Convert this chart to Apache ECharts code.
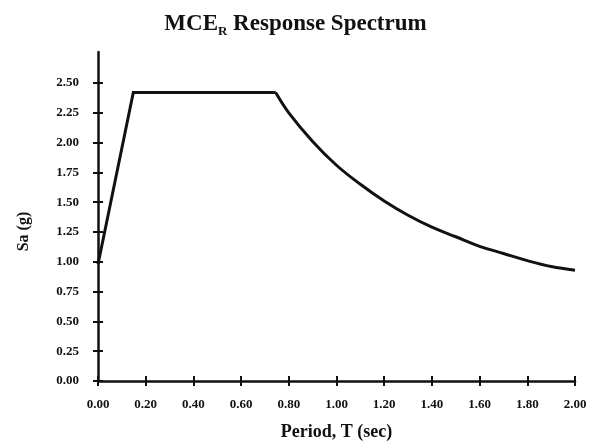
<!DOCTYPE html>
<html>
<head>
<meta charset="utf-8">
<script src="https://cdn.jsdelivr.net/npm/echarts@6/dist/echarts.min.js"></script>
<style>
html,body{margin:0;padding:0;background:#fff;}
#chart{width:591px;height:446px;}
</style>
</head>
<body>
<div id="chart"></div>
<script>
// Period T (sec) and spectral acceleration Sa (g)
// rising branch and plateau
var rampT  = [0.00, 0.148, 0.745];
var rampSa = [0.98, 2.42, 2.42];
// descending branch
var decayT  = [0.745, 0.80, 0.90, 1.00, 1.10, 1.20, 1.30, 1.40, 1.50, 1.60, 1.70, 1.80, 1.90, 2.00];
var decaySa = [2.42, 2.25, 2.01, 1.81, 1.65, 1.51, 1.39, 1.29, 1.21, 1.13, 1.07, 1.01, 0.96, 0.93];

var xTicks = [0.00, 0.20, 0.40, 0.60, 0.80, 1.00, 1.20, 1.40, 1.60, 1.80, 2.00];
var yTicks = [0.00, 0.25, 0.50, 0.75, 1.00, 1.25, 1.50, 1.75, 2.00, 2.25, 2.50];

var titleMain = 'MCE';
var titleSub = 'R';
var titleRest = ' Response Spectrum';
var xName = 'Period, T (sec)';
var yName = 'Sa (g)';

var serif = '"Liberation Serif", "DejaVu Serif", serif';
var ink = '#111';

function pairs(xs, ys) { return xs.map(function (t, i) { return [t, ys[i]]; }); }
function fmt(v) { return Number(v).toFixed(2); }

var chart = echarts.init(document.getElementById('chart'), null, {renderer: 'canvas'});

var xCommon = {
  type: 'value', min: 0, max: 2.0, interval: 0.2, position: 'bottom',
  splitLine: {show: false}
};
var yCommon = {
  type: 'value', min: 0, max: 2.76, position: 'left',
  splitLine: {show: false}
};
var lineStyle = {color: ink, width: 3, join: 'miter'};

chart.setOption({
  animation: false,
  backgroundColor: '#ffffff',
  title: {
    text: '{a|' + titleMain + '}{r|' + titleSub + '}{a|' + titleRest + '}',
    left: 'center',
    top: 5,
    textStyle: {
      rich: {
        a: {fontFamily: serif, fontSize: 23, fontWeight: 'bold', color: ink, lineHeight: 28},
        r: {fontFamily: serif, fontSize: 13, fontWeight: 'bold', color: ink, lineHeight: 10, verticalAlign: 'bottom'}
      }
    }
  },
  grid: {left: 98, right: 16, top: 52, bottom: 63, containLabel: false},
  xAxis: [
    Object.assign({}, xCommon, {
      name: xName,
      nameLocation: 'middle',
      nameGap: 42,
      nameTextStyle: {fontFamily: serif, fontSize: 18, fontWeight: 'bold', color: ink},
      axisLine: {show: true, lineStyle: {color: ink, width: 2.5}},
      axisTick: {show: true, inside: false, length: 5, lineStyle: {color: ink, width: 2}, customValues: xTicks},
      axisLabel: {show: true, margin: 17, fontFamily: serif, fontSize: 13, fontWeight: 'bold', color: ink,
                  formatter: fmt, customValues: xTicks}
    }),
    Object.assign({}, xCommon, {
      axisLine: {show: false},
      axisTick: {show: true, inside: true, length: 5, lineStyle: {color: ink, width: 2}, customValues: xTicks},
      axisLabel: {show: false}
    })
  ],
  yAxis: [
    Object.assign({}, yCommon, {
      name: yName,
      nameLocation: 'middle',
      nameGap: 66,
      nameRotate: 90,
      nameTextStyle: {fontFamily: serif, fontSize: 16, fontWeight: 'bold', color: ink, padding: [0, 0, 0, -30]},
      axisLine: {show: true, lineStyle: {color: ink, width: 2.5}},
      axisTick: {show: true, inside: false, length: 5, lineStyle: {color: ink, width: 2}, customValues: yTicks},
      axisLabel: {show: true, margin: 19, fontFamily: serif, fontSize: 13, fontWeight: 'bold', color: ink,
                  formatter: fmt, customValues: yTicks}
    }),
    Object.assign({}, yCommon, {
      axisLine: {show: false},
      axisTick: {show: true, inside: true, length: 5, lineStyle: {color: ink, width: 2}, customValues: yTicks},
      axisLabel: {show: false}
    })
  ],
  series: [{
    type: 'line',
    data: pairs(rampT, rampSa),
    showSymbol: false,
    symbol: 'none',
    smooth: false,
    lineStyle: lineStyle,
    z: 5
  }, {
    type: 'line',
    data: pairs(decayT, decaySa),
    showSymbol: false,
    symbol: 'none',
    smooth: 0.4,
    lineStyle: lineStyle,
    z: 5
  }]
});
</script>
</body>
</html>
